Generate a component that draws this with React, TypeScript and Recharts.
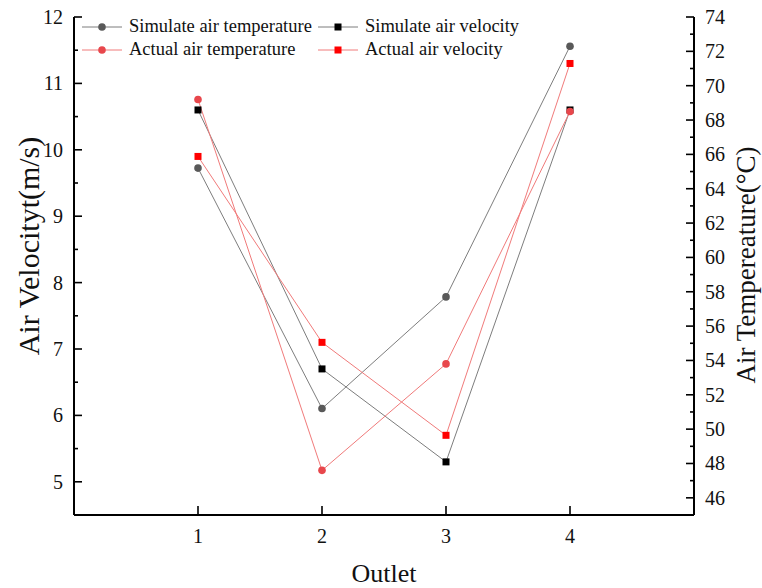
import { ComposedChart, Line, XAxis, YAxis, Legend } from "recharts";

// Outlet numbers on the x axis
const outlets = [1, 2, 3, 4];

// Temperatures (°C, right axis)
const simulateTemperature = [65.2, 51.2, 57.7, 72.3];
const actualTemperature = [69.2, 47.6, 53.8, 68.5];

// Velocities (m/s, left axis)
const simulateVelocity = [10.6, 6.7, 5.3, 10.6];
const actualVelocity = [9.9, 7.1, 5.7, 11.3];

// Axis ticks
const xTicks = [1, 2, 3, 4];
const velocityMajor = [5, 6, 7, 8, 9, 10, 11, 12];
const velocityMinor = [5.5, 6.5, 7.5, 8.5, 9.5, 10.5, 11.5];
const temperatureMajor = [46, 48, 50, 52, 54, 56, 58, 60, 62, 64, 66, 68, 70, 72, 74];
const temperatureMinor = [47, 49, 51, 53, 55, 57, 59, 61, 63, 65, 67, 69, 71, 73];

const FONT = '"Liberation Serif", "Times New Roman", serif';
const GAP = 11;
const MAJOR_LEN = 8;
const MINOR_LEN = 4;

const GRAY_LINE = "#7d7d7d";
const RED_LINE = "#f07a7a";

const textStyle = { fontFamily: FONT };

const data = outlets.map((outlet, i) => ({
  outlet,
  simTemp: simulateTemperature[i],
  actTemp: actualTemperature[i],
  simVel: simulateVelocity[i],
  actVel: actualVelocity[i],
}));

const LeftTick = (props: any) => {
  const { x, y, payload } = props;
  const major = velocityMajor.includes(payload.value);
  const axisX = x + GAP;
  return (
    <g>
      <line x1={axisX} x2={axisX + (major ? MAJOR_LEN : MINOR_LEN)} y1={y} y2={y} stroke="#000" strokeWidth={1.6} />
      {major && (
        <text x={x} y={y} textAnchor="end" dominantBaseline="central" fontSize={20} style={textStyle} fill="#111">
          {payload.value}
        </text>
      )}
    </g>
  );
};

const RightTick = (props: any) => {
  const { x, y, payload } = props;
  const major = temperatureMajor.includes(payload.value);
  const axisX = x - GAP;
  return (
    <g>
      <line x1={axisX} x2={axisX - (major ? MAJOR_LEN : MINOR_LEN)} y1={y} y2={y} stroke="#000" strokeWidth={1.6} />
      {major && (
        <text x={x} y={y} textAnchor="start" dominantBaseline="central" fontSize={20} style={textStyle} fill="#111">
          {payload.value}
        </text>
      )}
    </g>
  );
};

const BottomTick = (props: any) => {
  const { x, y, payload } = props;
  const axisY = y - GAP;
  return (
    <g>
      <line x1={x} x2={x} y1={axisY} y2={axisY - 9} stroke="#000" strokeWidth={1.6} />
      <text x={x} y={axisY + 21} textAnchor="middle" dominantBaseline="central" fontSize={20} style={textStyle} fill="#111">
        {payload.value}
      </text>
    </g>
  );
};

const Square = (color: string) => (props: any) => {
  const { cx, cy } = props;
  if (cx == null || cy == null) return null;
  return <rect x={cx - 3.5} y={cy - 3.5} width={7} height={7} fill={color} />;
};

const Circle = (color: string) => (props: any) => {
  const { cx, cy } = props;
  if (cx == null || cy == null) return null;
  return <circle cx={cx} cy={cy} r={3.8} fill={color} />;
};

const legendItems = [
  { label: "Simulate air temperature", line: GRAY_LINE, marker: "circle", color: "#595959" },
  { label: "Simulate air velocity", line: GRAY_LINE, marker: "square", color: "#000000" },
  { label: "Actual air temperature", line: RED_LINE, marker: "circle", color: "#e8474c" },
  { label: "Actual air velocity", line: RED_LINE, marker: "square", color: "#ff0000" },
];

const LegendBox = () => (
  <div
    style={{
      display: "grid",
      gridTemplateColumns: "236px auto",
      fontFamily: FONT,
      fontSize: 18.5,
      color: "#111",
      lineHeight: "23px",
    }}
  >
    {legendItems.map((item) => (
      <div key={item.label} style={{ display: "flex", alignItems: "center", whiteSpace: "nowrap" }}>
        <svg width={40} height={12} style={{ marginRight: 7 }}>
          <line x1={0} x2={40} y1={6} y2={6} stroke={item.line} strokeWidth={1} />
          {item.marker === "circle" ? (
            <circle cx={20} cy={6} r={3.8} fill={item.color} />
          ) : (
            <rect x={16.5} y={2.5} width={7} height={7} fill={item.color} />
          )}
        </svg>
        <span>{item.label}</span>
      </div>
    ))}
  </div>
);

const LeftTitle = (props: any) => {
  const { viewBox } = props;
  const cx = viewBox.x + 28;
  const cy = viewBox.y + 229;
  return (
    <text x={cx} y={cy} transform={`rotate(-90 ${cx} ${cy})`} textAnchor="middle" dominantBaseline="central" fontSize={30} style={textStyle} fill="#111">
      Air Velocityt(m/s)
    </text>
  );
};

const RightTitle = (props: any) => {
  const { viewBox } = props;
  const cx = viewBox.x + 52;
  const cy = viewBox.y + 248;
  return (
    <text x={cx} y={cy} transform={`rotate(-90 ${cx} ${cy})`} textAnchor="middle" dominantBaseline="central" fontSize={27} style={textStyle} fill="#111">
      Air Tempereature(°C)
    </text>
  );
};

const BottomTitle = (props: any) => {
  const { viewBox } = props;
  return (
    <text x={viewBox.x + viewBox.width / 2} y={viewBox.y + 58} textAnchor="middle" dominantBaseline="central" fontSize={26} style={textStyle} fill="#111">
      Outlet
    </text>
  );
};

export default function App() {
  return (
    <div style={{ position: "absolute", left: 0, top: 0, background: "#fff" }}>
      <ComposedChart width={762} height={588} data={data} margin={{ top: 17, right: 0, bottom: 0, left: 0 }}>
        <XAxis
          dataKey="outlet"
          type="number"
          domain={[0, 5]}
          ticks={xTicks}
          height={73}
          allowDataOverflow
          axisLine={{ stroke: "#000", strokeWidth: 2 }}
          tickLine={false}
          tickSize={0}
          tickMargin={GAP}
          tick={<BottomTick />}
          label={<BottomTitle />}
        />
        <YAxis
          yAxisId="vel"
          orientation="left"
          type="number"
          domain={[4.5, 12]}
          ticks={[...velocityMajor, ...velocityMinor].sort((a, b) => a - b)}
          width={74}
          allowDataOverflow
          interval={0}
          axisLine={{ stroke: "#000", strokeWidth: 2 }}
          tickLine={false}
          tickSize={0}
          tickMargin={GAP}
          tick={<LeftTick />}
          label={<LeftTitle />}
        />
        <YAxis
          yAxisId="temp"
          orientation="right"
          type="number"
          domain={[45, 74]}
          ticks={[...temperatureMajor, ...temperatureMinor].sort((a, b) => a - b)}
          width={68}
          allowDataOverflow
          interval={0}
          axisLine={{ stroke: "#000", strokeWidth: 2 }}
          tickLine={false}
          tickSize={0}
          tickMargin={GAP}
          tick={<RightTick />}
          label={<RightTitle />}
        />
        <Legend
          layout="vertical"
          align="center"
          verticalAlign="middle"
          content={<LegendBox />}
          wrapperStyle={{ position: "absolute", left: 82, top: 15, width: "auto", height: "auto" }}
        />
        <Line
          yAxisId="temp"
          dataKey="simTemp"
          stroke={GRAY_LINE}
          strokeWidth={1}
          dot={Circle("#595959")}
          activeDot={false}
          isAnimationActive={false}
        />
        <Line
          yAxisId="vel"
          dataKey="simVel"
          stroke={GRAY_LINE}
          strokeWidth={1}
          dot={Square("#000000")}
          activeDot={false}
          isAnimationActive={false}
        />
        <Line
          yAxisId="temp"
          dataKey="actTemp"
          stroke={RED_LINE}
          strokeWidth={1}
          dot={Circle("#e8474c")}
          activeDot={false}
          isAnimationActive={false}
        />
        <Line
          yAxisId="vel"
          dataKey="actVel"
          stroke={RED_LINE}
          strokeWidth={1}
          dot={Square("#ff0000")}
          activeDot={false}
          isAnimationActive={false}
        />
      </ComposedChart>
    </div>
  );
}
